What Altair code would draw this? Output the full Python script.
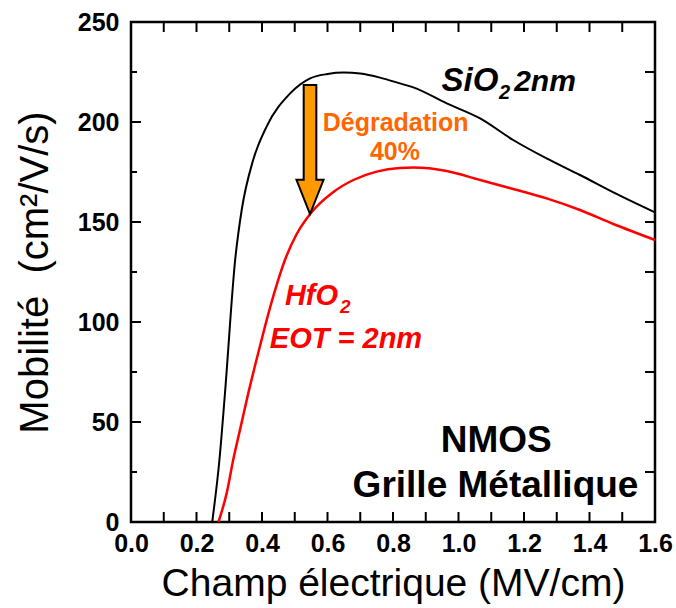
import altair as alt
import pandas as pd

# ---- data ----
sio2_x = [0.248, 0.270, 0.287, 0.318, 0.338, 0.373, 0.414, 0.486, 0.547, 0.600, 0.650, 0.700,
          0.760, 0.821, 0.862, 0.964, 1.066, 1.167, 1.269, 1.371, 1.473, 1.600]
sio2_y = [0.0, 31.0, 64.5, 131.0, 156.0, 181.0, 197.7, 214.3, 221.8, 224.0, 224.7, 224.2,
          222.2, 219.3, 217.3, 209.3, 201.8, 191.0, 181.8, 173.5, 164.8, 154.8]

hfo2_x = [0.267, 0.292, 0.312, 0.335, 0.358, 0.383, 0.409, 0.437, 0.470, 0.506, 0.547, 0.618, 0.679,
          0.750, 0.821, 0.862, 0.964, 1.066, 1.167, 1.269, 1.371, 1.473, 1.600]
hfo2_y = [0.0, 14.3, 31.0, 47.7, 64.3, 81.0, 97.7, 114.3, 131.0, 144.0, 154.0, 165.0, 171.0,
          175.2, 177.0, 177.2, 175.5, 171.0, 166.5, 161.8, 156.0, 149.0, 141.0]

x_tick_values = [0.0, 0.1, 0.2, 0.3, 0.4, 0.5, 0.6, 0.7, 0.8, 0.9, 1.0, 1.1, 1.2, 1.3, 1.4, 1.5, 1.6]
x_label_values = [0.0, 0.2, 0.4, 0.6, 0.8, 1.0, 1.2, 1.4, 1.6]
y_tick_values = [0, 25, 50, 75, 100, 125, 150, 175, 200, 225, 250]
y_major_values = [0, 50, 100, 150, 200, 250]
y_minor_values = [25, 75, 125, 175, 225]

arrow_x = [0.5466]
arrow_y = [186.25]

FONT = "Liberation Sans"
W, H = 524, 500
X0, X1, Y0, Y1 = 0.0, 1.6, 0.0, 250.0
XPX = (X1 - X0) / W   # data units per pixel (x)
YPX = (Y1 - Y0) / H   # data units per pixel (y)

xs = alt.Scale(domain=[X0, X1], nice=False, zero=False)
ys = alt.Scale(domain=[Y0, Y1], nice=False, zero=False)

# ---- one table for all line work: the two curves and the inward tick segments ----
rows = []
for i, (xv, yv) in enumerate(zip(sio2_x, sio2_y)):
    rows.append({"x": xv, "y": yv, "s": "SiO2", "o": i, "c": "black", "w": 2.0})
for i, (xv, yv) in enumerate(zip(hfo2_x, hfo2_y)):
    rows.append({"x": xv, "y": yv, "s": "HfO2", "o": i, "c": "#FF0000", "w": 2.5})


def add_tick(name, xa, ya, xb, yb):
    rows.append({"x": xa, "y": ya, "s": name, "o": 0, "c": "black", "w": 2.0})
    rows.append({"x": xb, "y": yb, "s": name, "o": 1, "c": "black", "w": 2.0})


for v in x_tick_values:
    add_tick(f"tb{v}", v, Y0, v, Y0 + 10 * YPX)
    add_tick(f"tt{v}", v, Y1, v, Y1 - 10 * YPX)
for v in y_major_values:
    add_tick(f"tl{v}", X0, v, X0 + 10 * XPX, v)
for v in y_minor_values:
    add_tick(f"tm{v}", X0, v, X0 + 6 * XPX, v)
for v in y_tick_values:
    add_tick(f"tr{v}", X1, v, X1 - 10 * XPX, v)
df = pd.DataFrame(rows)

curves = alt.Chart(df).mark_line(interpolate="monotone").encode(
    x=alt.X("x:Q", scale=xs, axis=alt.Axis(
        values=x_label_values, format=".1f", ticks=False, domain=False, grid=False,
        labelFlush=False, labelOverlap=False,
        labelFont=FONT, labelFontSize=25, labelFontWeight="bold", labelColor="black",
        labelPadding=9, title="Champ électrique (MV/cm)", titleFont=FONT,
        titleFontSize=39, titleFontWeight="normal", titleColor="black", titlePadding=8)),
    y=alt.Y("y:Q", scale=ys, axis=alt.Axis(
        values=y_major_values, ticks=False, domain=False, grid=False,
        labelFlush=False, labelOverlap=False,
        labelFont=FONT, labelFontSize=25, labelFontWeight="bold", labelColor="black",
        labelPadding=12, title="Mobilité\u00a0 (cm²/V/s)", titleFont=FONT,
        titleFontSize=40, titleFontWeight="normal", titleColor="black", titlePadding=22)),
    color=alt.Color("c:N", scale=None, legend=None),
    strokeWidth=alt.StrokeWidth("w:Q", scale=None, legend=None),
    detail="s:N",
    order=alt.Order("o:Q"),
)

arrow_path = "M-0.098,-1L0.098,-1L0.098,0.47L0.21,0.47L0,1L-0.21,0.47L-0.098,0.47Z"
arrow = alt.Chart(pd.DataFrame({"x": arrow_x, "y": arrow_y})).mark_point(
    shape=arrow_path, size=16641, filled=True, fill="#FF9900", stroke="black",
    strokeWidth=2, opacity=1, fillOpacity=1, strokeOpacity=1,
).encode(x=alt.X("x:Q", scale=xs), y=alt.Y("y:Q", scale=ys))


def text_layer(xv, yv, tv, size, color, weight="bold", style="normal", align="left"):
    d = pd.DataFrame({"x": xv, "y": yv, "t": tv})
    return alt.Chart(d).mark_text(
        font=FONT, fontSize=size, fontWeight=weight, fontStyle=style, color=color,
        align=align, baseline="alphabetic",
    ).encode(x=alt.X("x:Q", scale=xs), y=alt.Y("y:Q", scale=ys), text="t:N")


# annotation texts
sio2_a = text_layer([1.122], [215.5], ["SiO"], 33, "black", style="italic", align="right")
sio2_sub = text_layer([1.124], [211.5], ["2"], 20, "black", style="italic")
sio2_b = text_layer([1.170], [215.5], ["2nm"], 30, "black", style="italic")
degr = text_layer([0.808, 0.806], [195.6, 181.0], ["Dégradation", "40%"], 25, "#FF6600", align="center")
hfo_main = text_layer([0.470, 0.424], [108.5, 86.8], ["HfO", "EOT = 2nm"], 29, "#FF0000", style="italic")
hfo_sub = text_layer([0.638], [104.3], ["2"], 19, "#FF0000", style="italic")
nmos = text_layer([1.115, 1.113], [34.8, 12.6], ["NMOS", "Grille Métallique"], 37, "black", align="center")

chart = alt.layer(
    curves, arrow, sio2_a, sio2_sub, sio2_b, degr, hfo_main, hfo_sub, nmos,
).properties(
    width=W, height=H,
    padding={"left": 131, "top": 22, "right": 21, "bottom": 86},
    autosize=alt.AutoSizeParams(type="none"),
    background="white",
).configure_view(stroke="black", strokeWidth=2.5)

chart.save("out.html", embed_options={"renderer": "svg", "actions": False})
